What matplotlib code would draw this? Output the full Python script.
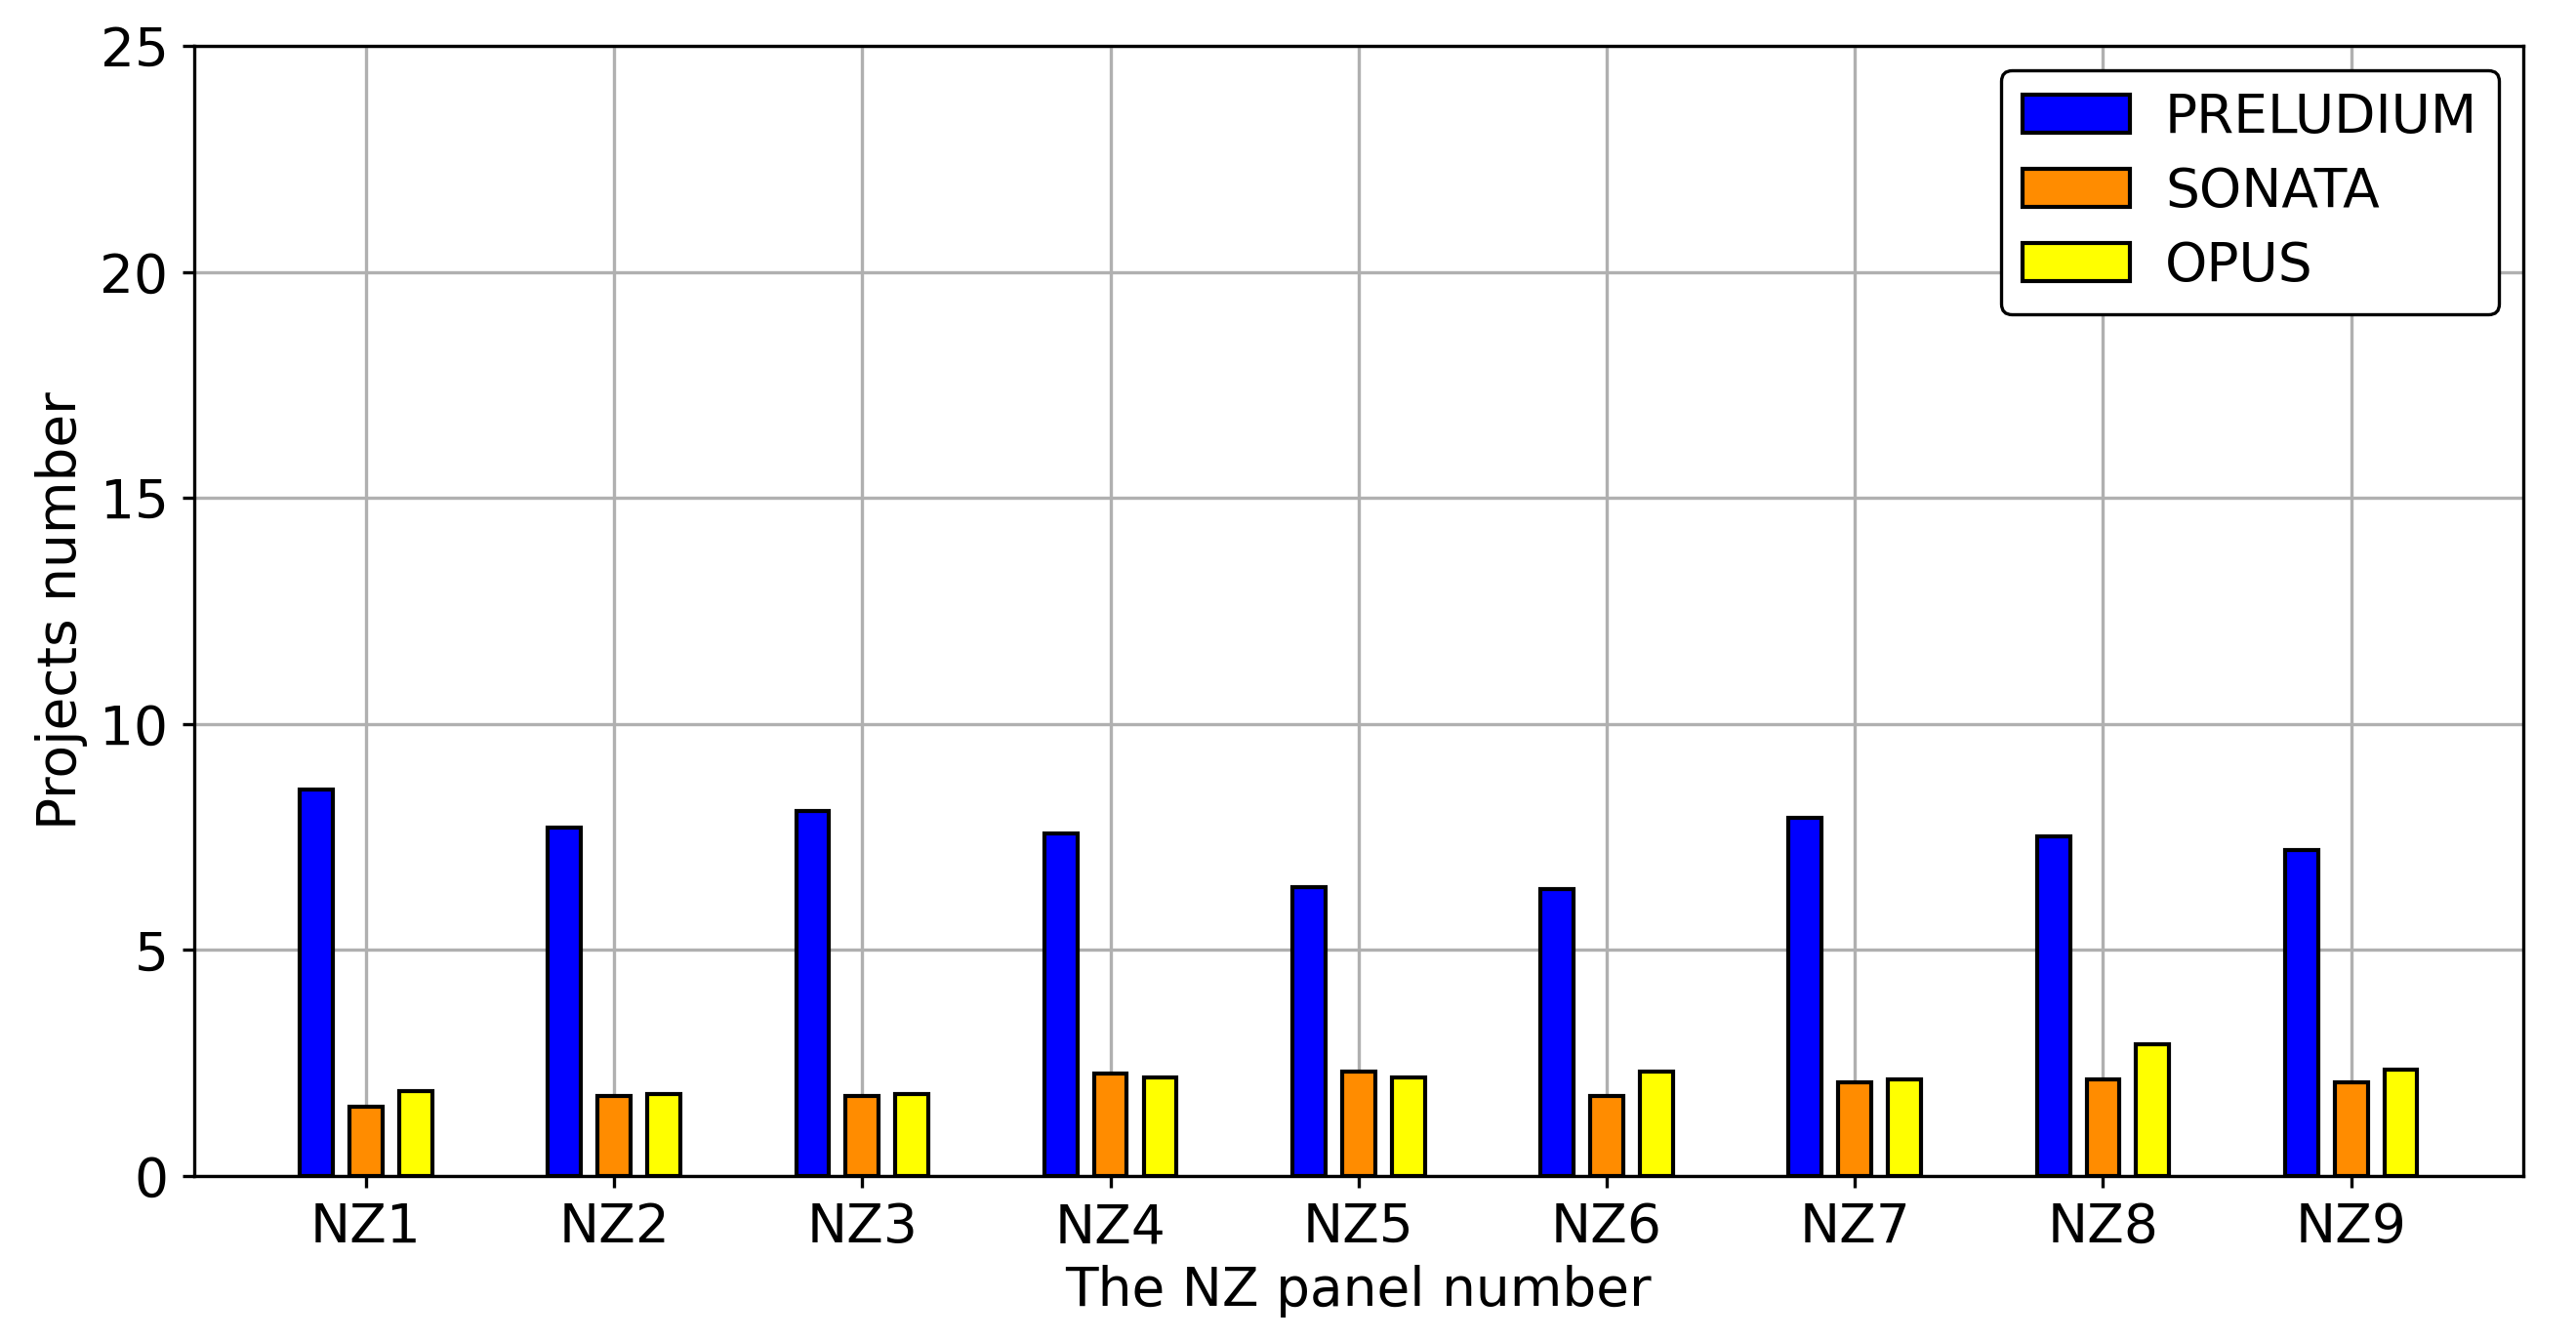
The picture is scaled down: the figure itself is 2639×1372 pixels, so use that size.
import numpy as np
import matplotlib
matplotlib.use("Agg")
import matplotlib.pyplot as plt

panels = ["NZ1", "NZ2", "NZ3", "NZ4", "NZ5", "NZ6", "NZ7", "NZ8", "NZ9"]
prelude = [8.56, 7.70, 8.08, 7.57, 6.40, 6.35, 7.92, 7.52, 7.22]
sonata = [1.53, 1.78, 1.78, 2.27, 2.32, 1.78, 2.07, 2.14, 2.07]
opus = [1.88, 1.82, 1.82, 2.19, 2.18, 2.32, 2.14, 2.92, 2.35]

plt.rcParams["font.size"] = 13.2

fig = plt.figure(figsize=(2639 / 300, 1372 / 300), dpi=300)
ax = fig.add_axes([0.0753, 0.1217, 0.9042, 0.844])
ax.set_axisbelow(True)
ax.grid(True, color="#b0b0b0", linewidth=0.8)

x = np.arange(len(panels))
w = 0.133
ax.bar(x - 0.2, prelude, w, color="#0000ff", edgecolor="black", linewidth=1.0, label="PRELUDIUM")
ax.bar(x, sonata, w, color="darkorange", edgecolor="black", linewidth=1.0, label="SONATA")
ax.bar(x + 0.2, opus, w, color="#ffff00", edgecolor="black", linewidth=1.0, label="OPUS")

ax.set_xticks(x)
ax.set_xticklabels(panels)
ax.set_ylim(0, 25)
ax.set_yticks([0, 5, 10, 15, 20, 25])
ax.tick_params(length=2.8)
ax.set_xlabel("The NZ panel number", labelpad=2.5)
ax.set_ylabel("Projects number", labelpad=3)

leg = ax.legend(loc="upper right", framealpha=1, edgecolor="black", fancybox=True,
                labelspacing=0.4, handletextpad=0.65, borderaxespad=0.45)
leg.get_frame().set_linewidth(0.8)

fig.savefig("out.png", dpi=300)
